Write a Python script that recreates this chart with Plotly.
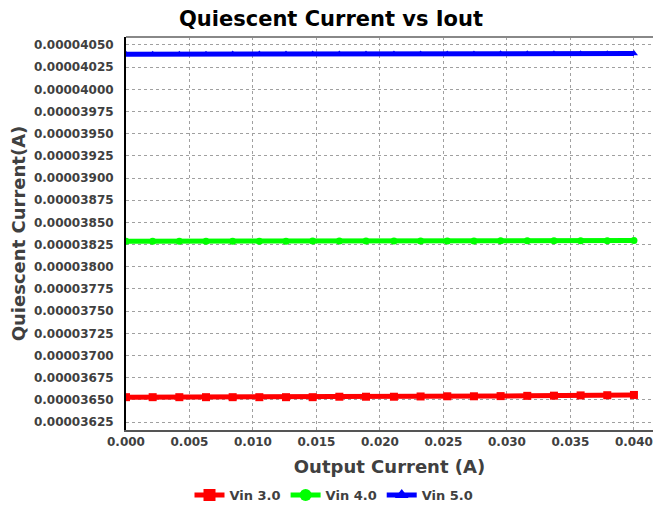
import plotly.graph_objects as go

iout = [0.0, 0.0021, 0.0042, 0.0063, 0.0084, 0.0105, 0.0126, 0.0147, 0.0168, 0.0189,
        0.0211, 0.0232, 0.0253, 0.0274, 0.0295, 0.0316, 0.0337, 0.0358, 0.0379, 0.0400]
vin3 = [0.00003653, 0.00003653, 0.00003653, 0.00003653, 0.00003653, 0.00003653, 0.00003653,
        0.00003653, 0.000036535, 0.000036535, 0.000036535, 0.000036538, 0.00003654, 0.00003654,
        0.000036542, 0.000036545, 0.000036547, 0.00003655, 0.000036552, 0.000036555]
vin4 = [0.000038288, 0.000038288, 0.000038288, 0.000038289, 0.000038289, 0.000038289, 0.000038289,
        0.00003829, 0.00003829, 0.00003829, 0.00003829, 0.00003829, 0.000038291, 0.000038291,
        0.000038292, 0.000038292, 0.000038293, 0.000038293, 0.000038294, 0.000038295]
vin5 = [0.000040395, 0.000040396, 0.000040396, 0.000040396, 0.000040397, 0.000040397, 0.000040397,
        0.000040397, 0.000040398, 0.000040398, 0.000040398, 0.000040398, 0.000040399, 0.000040399,
        0.0000404, 0.0000404, 0.000040401, 0.000040401, 0.000040402, 0.000040403]
series_names = ["Vin 3.0", "Vin 4.0", "Vin 5.0"]
x_ticks = [0.000, 0.005, 0.010, 0.015, 0.020, 0.025, 0.030, 0.035, 0.040]
y_ticks = [0.00003625 + i * 0.00000025 for i in range(18)]

colors = ["#ff0000", "#00ff00", "#0000ff"]
symbols = ["square", "circle", "triangle-up"]
msizes = [8, 7, 7]

# page body has an 8px default margin; keep figure inside the visible viewport
W, H = 645, 494

fig = go.Figure()
for name, ys, c, s, ms in zip(series_names, [vin3, vin4, vin5], colors, symbols, msizes):
    fig.add_trace(go.Scatter(x=iout, y=ys, name=name, mode="lines+markers",
                             line=dict(color=c, width=5),
                             marker=dict(color=c, symbol=s, size=ms)))

font_fam = "DejaVu Sans, Verdana, sans-serif"
fig.update_layout(
    width=W, height=H,
    margin=dict(l=118, r=0, t=29, b=72),
    paper_bgcolor="white", plot_bgcolor="white",
    font=dict(family=font_fam, color="#404040"),
    title=dict(text="<b>Quiescent Current vs Iout</b>", x=(331 - 8) / W, xref="container",
               xanchor="center", y=1 - 11 / H, yref="container", yanchor="middle",
               font=dict(size=21, color="#000000", family=font_fam)),
    showlegend=True,
    legend=dict(orientation="h", x=(334 - 8) / W, xref="container", xanchor="center",
                y=7 / H, yref="container", yanchor="middle",
                font=dict(size=13, color="#404040", family=font_fam, weight="bold"),
                itemwidth=30, tracegroupgap=0, itemsizing="constant"),
)
fig.update_xaxes(
    range=[0, 0.0415], tickvals=x_ticks,
    ticktext=["<b>%.3f</b>" % v for v in x_ticks],
    tickfont=dict(size=12, color="#404040"),
    showgrid=True, gridcolor="#a0a0a0", griddash="dot", gridwidth=1,
    showline=True, linecolor="#555555", linewidth=2, mirror=False,
    ticks="", zeroline=False,
    title=dict(text="<b>Output Current (A)</b>", font=dict(size=18, color="#404040"), standoff=12),
)
fig.update_yaxes(
    range=[0.00003616, 0.00004059], tickvals=y_ticks,
    ticktext=["<b>%.8f</b>" % v for v in y_ticks],
    tickfont=dict(size=12, color="#404040"),
    ticklabelstandoff=8,
    showgrid=True, gridcolor="#a0a0a0", griddash="dot", gridwidth=1,
    showline=True, linecolor="#000000", linewidth=2,
    ticks="", zeroline=False,
    title=dict(text="<b>Quiescent Current(A)</b>", font=dict(size=18, color="#404040"), standoff=8),
)
fig.add_shape(type="line", xref="paper", yref="paper", x0=0, x1=1, y0=1, y1=1,
              line=dict(color="#888888", width=2))

fig.write_html("out.html")
